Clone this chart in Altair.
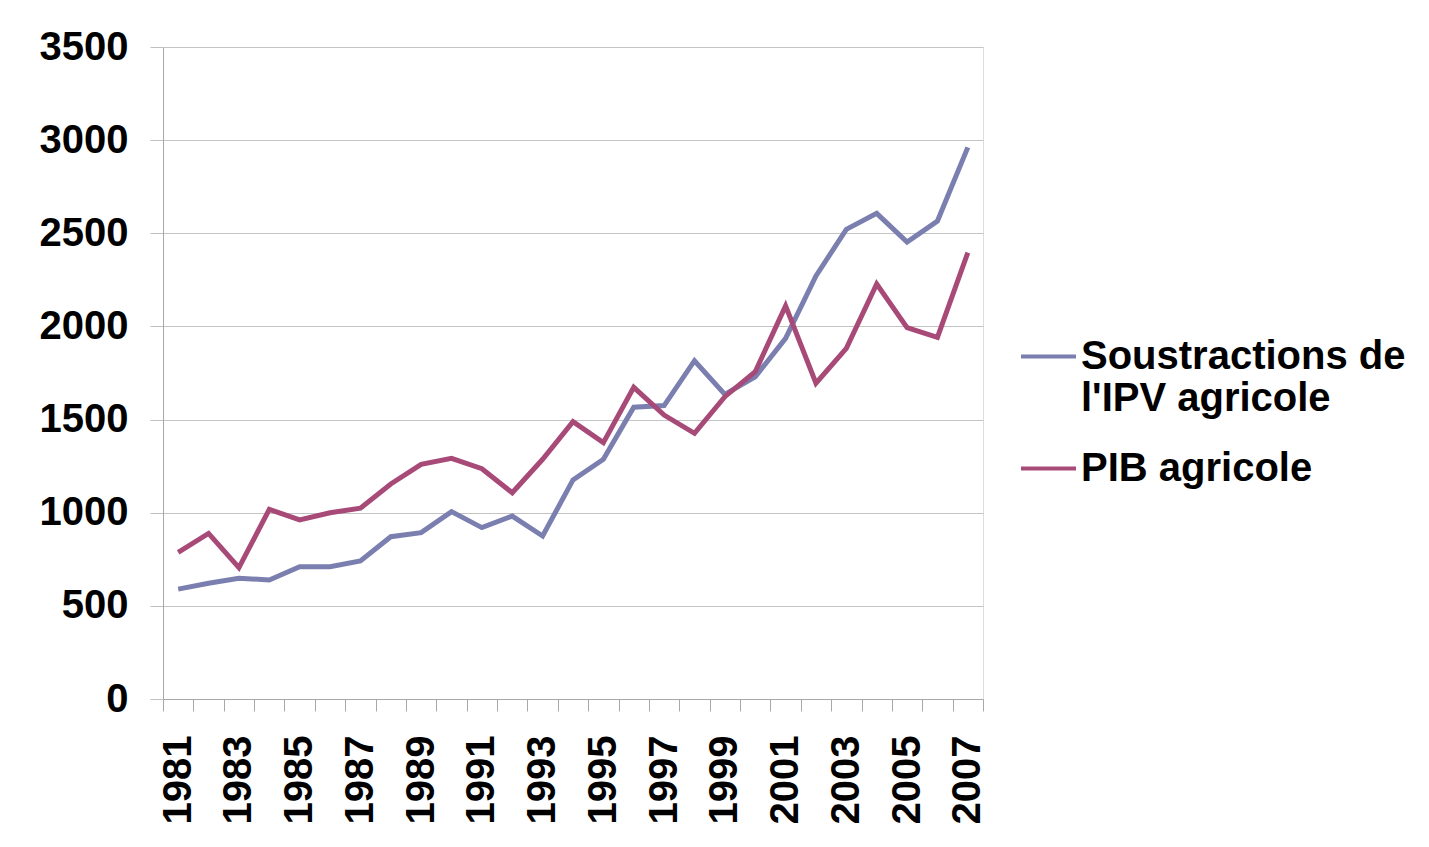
import altair as alt
import pandas as pd

years = list(range(1981, 2008))
ipv = [590, 621, 648, 639, 710, 710, 741, 871, 893, 1006, 920, 982, 875, 1176,
       1287, 1566, 1575, 1816, 1635, 1730, 1936, 2271, 2521, 2607, 2453, 2566, 2961]
pib = [787, 889, 705, 1018, 961, 1000, 1024, 1154, 1260, 1292, 1236, 1107, 1287, 1489,
       1376, 1673, 1524, 1426, 1623, 1757, 2110, 1695, 1882, 2228, 1993, 1941, 2396]
series_names = ["Soustractions de l'IPV agricole", "PIB agricole"]
colors = ["#7A7FB0", "#A84A78"]
y_ticks = [0, 500, 1000, 1500, 2000, 2500, 3000, 3500]

rows = []
for name, vals in zip(series_names, [ipv, pib]):
    for yr, v in zip(years, vals):
        rows.append({"year": yr, "value": v, "series": name})
df = pd.DataFrame(rows)

FONT = "Liberation Sans"

chart = alt.Chart(df).mark_line(strokeWidth=5).encode(
    x=alt.X(
        "year:O",
        scale=alt.Scale(type="band", paddingInner=0, paddingOuter=0),
        axis=alt.Axis(
            title=None,
            labelAngle=270,
            labelExpr="(toNumber(datum.value) - 1981) % 2 == 0 ? datum.label : ''",
            tickBand="extent",
            tickSize=12,
            labelPadding=24,
            labelFontSize=40,
            labelFontWeight="bold",
            labelFont=FONT,
            labelColor="black",
            domainColor="#a8a8a8",
            tickColor="#a8a8a8",
            labelOverlap=False,
            grid=False,
        ),
    ),
    y=alt.Y(
        "value:Q",
        scale=alt.Scale(domain=[0, 3500], nice=False),
        axis=alt.Axis(
            title=None,
            values=y_ticks,
            format="d",
            tickSize=13,
            labelPadding=22,
            labelFontSize=40,
            labelFontWeight="bold",
            labelFont=FONT,
            labelColor="black",
            domainColor="#a8a8a8",
            tickColor="#c0c0c0",
            gridColor="#c4c4c4",
            grid=True,
        ),
    ),
    color=alt.Color(
        "series:N",
        scale=alt.Scale(domain=series_names, range=colors),
        legend=alt.Legend(
            title=None,
            orient="none",
            legendX=856,
            legendY=280,
            symbolType="stroke",
            symbolSize=3025,
            symbolStrokeWidth=4,
            labelFontSize=40,
            labelFontWeight="bold",
            labelFont=FONT,
            labelColor="black",
            labelLimit=600,
            labelOffset=3,
            rowPadding=20,
            labelExpr="indexof(datum.label, 'IPV') >= 0 ? ['Soustractions de', \"l'IPV agricole\"] : datum.label",
        ),
    ),
    order=alt.Order("year:O"),
).properties(
    width=820,
    height=652,
    autosize=alt.AutoSizeParams(type="none"),
    padding={"left": 155, "top": 39, "right": 438, "bottom": 138},
).configure_view(stroke=None).configure(background="white")

chart.save("out.html", embed_options={"renderer": "svg", "actions": False})
